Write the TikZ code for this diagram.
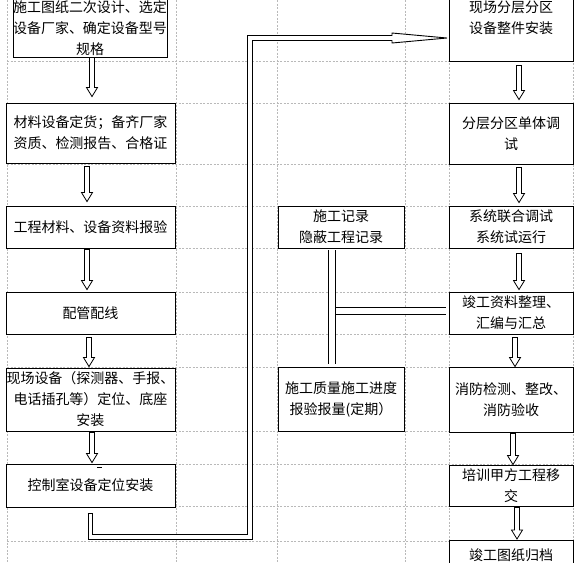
\documentclass[tikz,border=0pt]{standalone}
\usepackage{fontspec}
\setmainfont{Noto Sans CJK SC}
\usetikzlibrary{calc}
\tikzset{
  box/.style={draw,fill=white,line width=0.9pt,inner sep=0pt,align=center,font=\fontsize{14}{21}\selectfont},
  gridline/.style={gray!55,line width=0.5pt,dash pattern=on 2pt off 1.5pt},
  dnarrow/.style={line width=0.8pt,fill=white,to path={let \p1=(\tikztostart),\p2=(\tikztotarget) in
    (\x1-2.5pt,\y1) -- (\x1-2.5pt,\y2+9pt) -- (\x1-5.5pt,\y2+9pt) -- (\x1,\y2) -- (\x1+5.5pt,\y2+9pt) -- (\x1+2.5pt,\y2+9pt) -- (\x1+2.5pt,\y1) -- cycle}},
  pipe/.style={line width=0.9pt,double,double distance=3.5pt},
  teepipe/.style={line width=0.9pt,double=white,double distance=6.5pt},
}
\begin{document}
\begin{tikzpicture}[x=1pt,y=-1pt]
        \useasboundingbox (0,0) rectangle (574,563);
        \clip (0,0) rectangle (574,563);
        \foreach \x in {7,176,277,405,449,573} \draw[gridline] (\x,0) -- (\x,563);
        \foreach \y in {61,103,164,206,248,292,334,367,431,464,506,541} \draw[gridline] (7,\y) -- (574,\y);

        \node[box,minimum width=154pt,minimum height=58pt] (l1) at (90,28) {施工图纸二次设计、选定\\设备厂家、确定设备型号\\规格};
        \node[box,minimum width=169pt,minimum height=60pt] (l2) at (90.5,133) {材料设备定货；备齐厂家\\资质、检测报告、合格证};
        \node[box,minimum width=169pt,minimum height=42pt] (l3) at (90.5,227) {工程材料、设备资料报验};
        \node[box,minimum width=169pt,minimum height=42pt] (l4) at (90.5,313) {配管配线};
        \node[box,minimum width=169pt,minimum height=63pt] (l5) at (90.5,399.5) {现场设备（探测器、手报、\\电话插孔等）定位、底座\\安装};
        \node[box,minimum width=169pt,minimum height=43pt] (l6) at (90.5,485.5) {控制室设备定位安装};

        \node[box,minimum width=126pt,minimum height=42pt] (m1) at (341,227) {施工记录\\隐蔽工程记录};
        \node[box,minimum width=126pt,minimum height=64pt] (m2) at (341,399) {施工质量施工进度\\报验报量(定期）};

        \node[box,minimum width=124pt,minimum height=87pt] (r1) at (511,17.5) {现场分层分区\\设备整件安装};
        \node[box,minimum width=124pt,minimum height=61pt] (r2) at (511,133.5) {分层分区单体调\\试};
        \node[box,minimum width=124pt,minimum height=42pt] (r3) at (511,227) {系统联合调试\\系统试运行};
        \node[box,minimum width=124pt,minimum height=42pt] (r4) at (511,313) {竣工资料整理、\\汇编与汇总};
        \node[box,minimum width=124pt,minimum height=65pt] (r5) at (511,399.5) {消防检测、整改、\\消防验收};
        \node[box,minimum width=124pt,minimum height=41pt] (r6) at (511,485.5) {培训甲方工程移\\交};
        \node[box,minimum width=124pt,inner ysep=8pt,anchor=north] (r7) at (511,540) {竣工图纸归档};

        \foreach \a/\b/\dx/\s/\e in {l1/l2/2/0/6,l2/l3/-3.5/3/4,l3/l4/-3.5/1/2,l4/l5/-1.5/3/1,l5/l6/1.5/1/1,
            r1/r2/8/4/3,r2/r3/8/3/3,r3/r4/8/5/2,r4/r5/4/3/0,r5/r6/2/1/0,r6/r7/6/1/1}
          \draw[dnarrow] ([xshift=\dx pt,yshift=-\s pt]\a.south) to ([yshift=\e pt]\b.north);
        \draw[line width=1pt] (97,467) -- (102,467);

        \coordinate (tee) at (332,311);
        \draw[teepipe] (tee) -- ($(tee -| r4.west)+(-3,0)$);
        \draw[teepipe] ($(m1.south -| tee)+(0,2)$) -- ($(m2.north -| tee)+(0,-3)$);

        \coordinate (bend) at (250,537);
        \coordinate (tip) at (447,38);
        \draw[pipe] ($(l6.south)+(0,6)$) |- (bend) |- ($(tip)+(-55,0)$);
        \draw[line width=0.9pt] ($(l6.south)+(-2.6,6)$) -- ($(l6.south)+(2.6,6)$);
        \filldraw[fill=white,line width=0.9pt] ($(tip)+(-55,-2.2)$) -- ($(tip)+(-55,-5)$) -- (tip) -- ($(tip)+(-55,5)$) -- ($(tip)+(-55,2.2)$);
    \end{tikzpicture}
\end{document}
